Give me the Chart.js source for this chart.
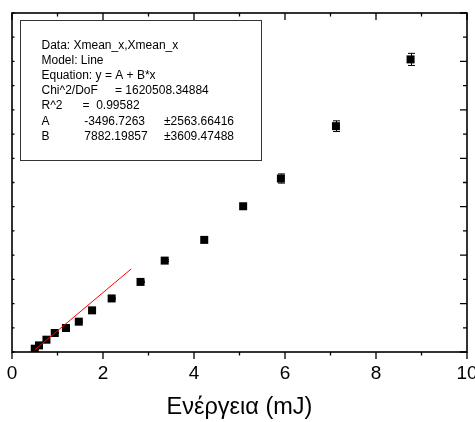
<!DOCTYPE html>
<html>
<head>
<meta charset="utf-8">
<script src="https://cdn.jsdelivr.net/npm/chart.js@4.4.1/dist/chart.umd.min.js"></script>
<style>
  html, body { margin: 0; padding: 0; background: #fff; }
  #wrap { width: 475px; height: 422px; position: relative; }
</style>
</head>
<body>
<div id="wrap"><canvas id="c" width="475" height="422"></canvas></div>
<script>
// Measured signal against pulse energy
const energy    = [0.50, 0.594, 0.757, 0.94, 1.186, 1.468, 1.76, 2.19, 2.825, 3.356, 4.225, 5.08, 5.91, 7.12, 8.76];
const signal    = [682, 1364, 2542, 3927, 4961, 6263, 8599, 11058, 14469, 18872, 23150, 30095, 35821, 46631, 60418];
const signalErr = [20, 30, 40, 50, 60, 80, 100, 120, 150, 180, 220, 300, 950, 1100, 1250];

// Axis ranges and tick steps
const xRange = [0, 10];
const xLabelStep = 2;
const xMinorStep = 1;
const yRange = [0, 70000];
const yMajorStep = 10000;
const yMinorStep = 5000;

// Linear fit y = A + B*x over the low-energy points
const fitA = -3496.7263;
const fitAErr = "2563.66416";
const fitB = 7882.19857;
const fitBErr = "3609.47488";
const fitChi2 = "1620508.34884";
const fitR2 = "0.99582";
const fitRange = [0.5, 2.62];

const fitLine = fitRange.map(x => ({ x: x, y: fitA + fitB * x }));

const headerLines = ["Data: Xmean_x,Xmean_x", "Model: Line", "Equation: y = A + B*x"];

const FONT = "'Liberation Sans', Arial, Helvetica, sans-serif";

const framePlugin = {
  id: 'originFrame',
  beforeDatasetsDraw(chart) {
    // vertical error bars under the markers
    const ctx = chart.ctx, xs = chart.scales.x, ys = chart.scales.y;
    ctx.save();
    ctx.strokeStyle = '#000';
    ctx.lineWidth = 1;
    energy.forEach((e, i) => {
      const px = Math.round(xs.getPixelForValue(e)) + 0.5;
      const yTop = ys.getPixelForValue(signal[i] + signalErr[i]);
      const yBot = ys.getPixelForValue(signal[i] - signalErr[i]);
      ctx.beginPath();
      ctx.moveTo(px, yTop); ctx.lineTo(px, yBot);
      ctx.moveTo(px - 3.5, yTop); ctx.lineTo(px + 3.5, yTop);
      ctx.moveTo(px - 3.5, yBot); ctx.lineTo(px + 3.5, yBot);
      ctx.stroke();
    });
    ctx.restore();
  },
  afterDraw(chart) {
    const ctx = chart.ctx, a = chart.chartArea;
    const xs = chart.scales.x, ys = chart.scales.y;
    ctx.save();
    ctx.strokeStyle = '#000';

    // frame
    ctx.lineWidth = 1.6;
    ctx.strokeRect(a.left, a.top, a.right - a.left, a.bottom - a.top);

    // x ticks: outward on the bottom, inward on the top
    ctx.lineWidth = 1.3;
    ctx.beginPath();
    for (let v = xRange[0]; v <= xRange[1] + 1e-9; v += xMinorStep) {
      const px = xs.getPixelForValue(v);
      const len = (Math.abs(v % xLabelStep) < 1e-9) ? 7 : 3.5;
      ctx.moveTo(px, a.bottom); ctx.lineTo(px, a.bottom + len);
      ctx.moveTo(px, a.top); ctx.lineTo(px, a.top + len);
    }
    // y ticks: inward on both sides
    for (let v = yRange[0]; v <= yRange[1]; v += yMinorStep) {
      const py = ys.getPixelForValue(v);
      const len = (v % yMajorStep === 0) ? 7 : 4;
      ctx.moveTo(a.right, py); ctx.lineTo(a.right - len, py);
      ctx.moveTo(a.left, py); ctx.lineTo(a.left + 2.5, py);
    }
    ctx.stroke();

    // fit results box
    ctx.lineWidth = 1;
    ctx.strokeStyle = '#333';
    ctx.strokeRect(20.5, 20.5, 241, 140);
    ctx.fillStyle = '#000';
    ctx.font = '12px ' + FONT;
    ctx.textBaseline = 'middle';
    ctx.textAlign = 'left';
    const x0 = 41.5, dy = 15.1;
    let y = 45.7;
    headerLines.forEach(t => { ctx.fillText(t, x0, y); y += dy; });
    ctx.fillText('Chi^2/DoF', x0, y); ctx.fillText('= ' + fitChi2, 115, y); y += dy;
    ctx.fillText('R^2', x0, y); ctx.fillText('=  ' + fitR2, 82.5, y); y += dy;
    ctx.fillText('A', x0, y); ctx.fillText(String(fitA), 84.3, y); ctx.fillText('\u00B1' + fitAErr, 164, y); y += dy;
    ctx.fillText('B', x0, y); ctx.fillText(String(fitB), 84.3, y); ctx.fillText('\u00B1' + fitBErr, 164, y);
    ctx.restore();
  }
};

new Chart(document.getElementById('c'), {
  type: 'scatter',
  data: {
    datasets: [
      {
        type: 'line',
        label: 'Linear fit',
        data: fitLine,
        borderColor: '#ff0000',
        borderWidth: 1,
        pointRadius: 0,
        fill: false,
        order: 1
      },
      {
        label: 'Xmean_x',
        data: energy.map((e, i) => ({ x: e, y: signal[i] })),
        pointStyle: 'rect',
        pointRadius: 5.66,
        backgroundColor: '#000',
        borderColor: '#000',
        borderWidth: 0,
        order: 2
      }
    ]
  },
  options: {
    responsive: false,
    animation: false,
    devicePixelRatio: 1,
    layout: { padding: { top: 13, right: 8, left: 0, bottom: 0 } },
    plugins: { legend: { display: false }, tooltip: { enabled: false } },
    scales: {
      x: {
        type: 'linear',
        min: xRange[0], max: xRange[1],
        grid: { display: false, drawTicks: false },
        border: { display: false },
        ticks: {
          stepSize: xLabelStep,
          color: '#000',
          font: { family: FONT, size: 19 },
          padding: 10,
          maxRotation: 0,
          autoSkip: false
        },
        title: {
          display: true,
          text: 'Ενέργεια (mJ)',
          color: '#000',
          font: { family: FONT, size: 23.5 },
          padding: { top: 4, bottom: 0 }
        },
        afterFit(s) { s.height = 70; s.paddingLeft = 0; s.paddingRight = 0; }
      },
      y: {
        type: 'linear',
        min: yRange[0], max: yRange[1],
        grid: { display: false, drawTicks: false },
        border: { display: false },
        ticks: { display: false, stepSize: yMinorStep },
        afterFit(s) { s.width = 12; s.paddingTop = 0; s.paddingBottom = 0; }
      }
    }
  },
  plugins: [framePlugin]
});
</script>
</body>
</html>
